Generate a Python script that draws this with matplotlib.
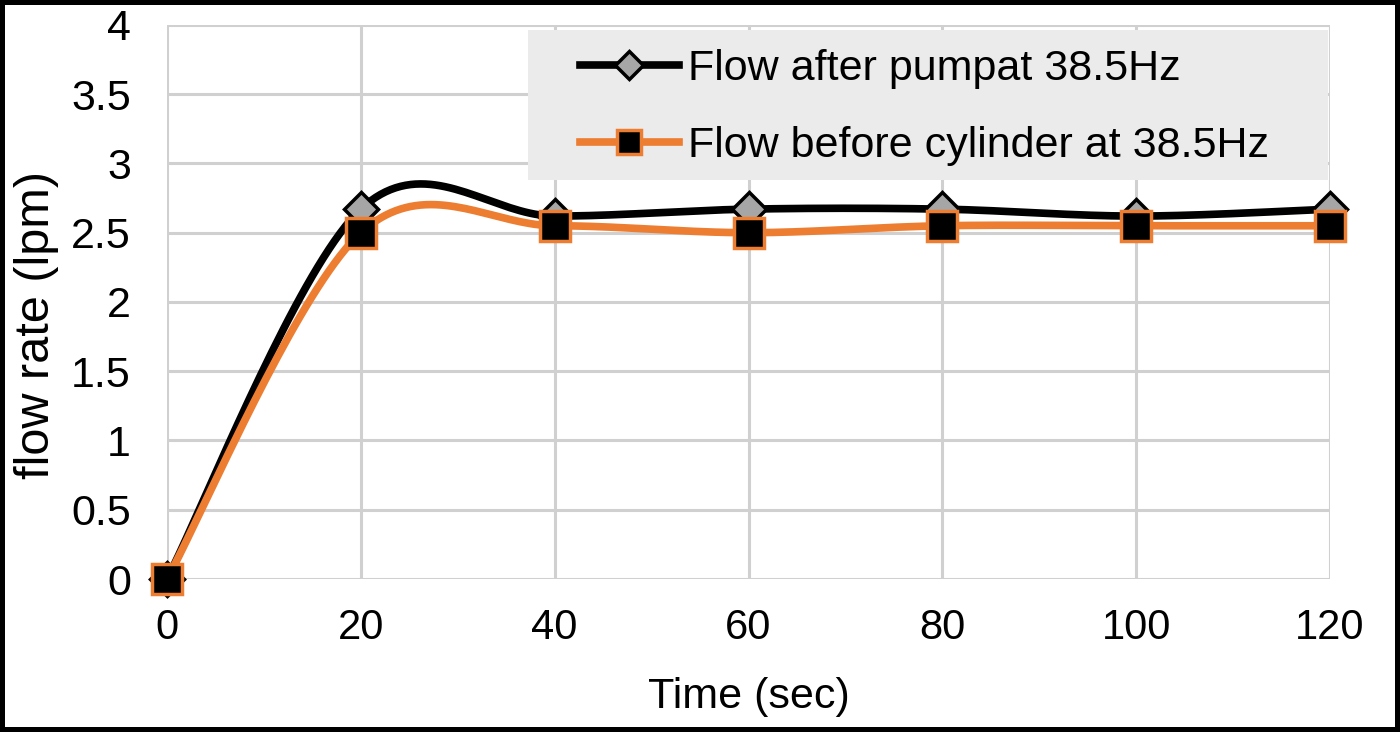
import matplotlib
matplotlib.use('Agg')
import matplotlib.pyplot as plt
from matplotlib.patches import Rectangle
import numpy as np

plt.rcParams['font.family'] = ['Liberation Sans', 'DejaVu Sans']

# data
time_sec = [0, 20, 40, 60, 80, 100, 120]
flow_after_pump = [0, 2.67, 2.62, 2.67, 2.67, 2.62, 2.67]
flow_before_cyl = [0, 2.50, 2.55, 2.50, 2.55, 2.55, 2.55]
label_after = 'Flow after pumpat 38.5Hz'
label_before = 'Flow before cylinder at 38.5Hz'


def smooth(xs, ys, n=40):
    # Excel-like smoothed line (Catmull-Rom as cubic Bezier)
    p = np.column_stack([xs, ys]).astype(float)
    out = []
    for i in range(len(p) - 1):
        p0 = p[i - 1] if i > 0 else p[i]
        p3 = p[i + 2] if i + 2 < len(p) else p[i + 1]
        c1 = p[i] + (p[i + 1] - p0) / 6.0
        c2 = p[i + 1] - (p3 - p[i]) / 6.0
        t = np.linspace(0, 1, n)[:, None]
        seg = ((1 - t) ** 3 * p[i] + 3 * (1 - t) ** 2 * t * c1
               + 3 * (1 - t) * t ** 2 * c2 + t ** 3 * p[i + 1])
        out.append(seg if i == 0 else seg[1:])
    out = np.vstack(out)
    return out[:, 0], out[:, 1]


fig = plt.figure(figsize=(14, 7.32), dpi=100)
fig.patch.set_edgecolor('black')
fig.patch.set_linewidth(7)
ax = fig.add_axes([0.1193, 0.209, 0.8307, 0.757])

sx, sy = smooth(time_sec, flow_after_pump)
ax.plot(sx, sy, color='black', lw=5.5, zorder=3, solid_capstyle='round',
        clip_on=False)
ax.plot(time_sec, flow_after_pump, ls='none', marker='D', ms=17,
        mfc='#a6a6a6', mec='black', mew=2.5, zorder=4, clip_on=False)

sx, sy = smooth(time_sec, flow_before_cyl)
ax.plot(sx, sy, color='#ed7d31', lw=5.5, zorder=5, solid_capstyle='round',
        clip_on=False)
ax.plot(time_sec, flow_before_cyl, ls='none', marker='s', ms=21,
        mfc='black', mec='#ed7d31', mew=2.5, zorder=6, clip_on=False)

ax.set_xlim(0, 120)
ax.set_ylim(0, 4)
ax.set_xticks(np.arange(0, 121, 20))
ax.set_yticks(np.arange(0, 4.01, 0.5))
ax.set_yticklabels(['0', '0.5', '1', '1.5', '2', '2.5', '3', '3.5', '4'])
ax.grid(True, color='#d0d0d0', lw=2.2)
ax.set_axisbelow(True)
for s in ax.spines.values():
    s.set_visible(False)
ax.tick_params(length=0)
ax.tick_params(axis='x', labelsize=30, pad=21)
ax.tick_params(axis='y', labelsize=31, pad=26)
ax.set_xlabel('Time (sec)', fontsize=31, labelpad=21)
ax.set_ylabel('flow rate (lpm)', fontsize=35)
ax.yaxis.set_label_coords(-0.093, 0.458)

# legend background box
ax.add_patch(Rectangle((0.310, 0.720), 0.688, 0.271, transform=ax.transAxes,
                       facecolor='#ebebeb', edgecolor='none', zorder=9,
                       clip_on=False))
h1, = ax.plot([], [], color='black', lw=5.5, marker='D', ms=14,
              mfc='#a6a6a6', mec='black', mew=2.5)
h2, = ax.plot([], [], color='#ed7d31', lw=5.5, marker='s', ms=17,
              mfc='black', mec='#ed7d31', mew=2.5)
leg = ax.legend([h1, h2], [label_after, label_before], loc='center left',
                bbox_to_anchor=(0.355, 0.851), fontsize=31, frameon=False,
                handlelength=2.3, handletextpad=0.2, labelspacing=0.85,
                borderpad=0, borderaxespad=0)
leg.set_zorder(10)

fig.savefig('out.png', dpi=100, edgecolor=fig.get_edgecolor())
